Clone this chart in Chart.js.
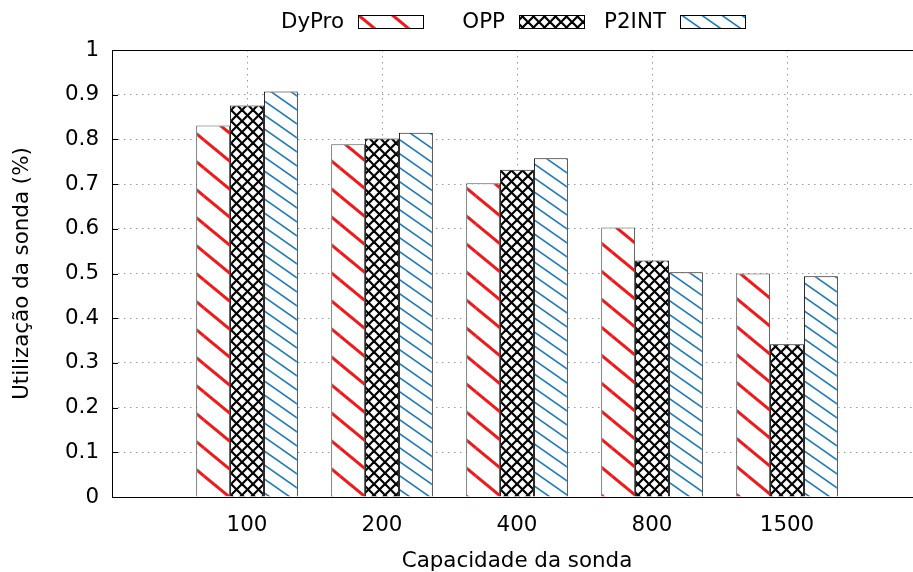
<!DOCTYPE html>
<html>
<head>
<meta charset="utf-8">
<script src="https://cdn.jsdelivr.net/npm/chart.js@4/dist/chart.umd.min.js"></script>
<style>
    html, body { margin: 0; padding: 0; background: #fff; overflow: hidden; }
    canvas { display: block; }
</style>
</head>
<body>
<!-- plot frame runs a little past the right edge of the window, like the original -->
<canvas id="probeChart" width="922" height="572"></canvas>
<script>
const categories = ["100", "200", "400", "800", "1500"];
const dyproValues = [0.831, 0.789, 0.702, 0.603, 0.500];
const oppValues = [0.876, 0.802, 0.732, 0.529, 0.342];
const p2intValues = [0.907, 0.815, 0.758, 0.503, 0.494];
const yTickValues = [0, 0.1, 0.2, 0.3, 0.4, 0.5, 0.6, 0.7, 0.8, 0.9, 1];

const FONT = "'DejaVu Sans', sans-serif";
const FONT_SIZE = 21.4;

function makeStripes(color, w, h, lw) {
    const c = document.createElement("canvas");
    c.width = w;
    c.height = h;
    const g = c.getContext("2d");
    g.fillStyle = "#fff";
    g.fillRect(0, 0, w, h);
    g.strokeStyle = color;
    g.lineWidth = lw;
    for (const dx of [-w, 0, w]) {
        for (const dy of [-h, 0, h]) {
            g.beginPath();
            g.moveTo(dx, dy);
            g.lineTo(dx + w, dy + h);
            g.stroke();
        }
    }
    return g.createPattern(c, "repeat");
}

function makeCrossHatch(color, s, lw) {
    const c = document.createElement("canvas");
    c.width = s;
    c.height = s;
    const g = c.getContext("2d");
    g.fillStyle = "#fff";
    g.fillRect(0, 0, s, s);
    g.strokeStyle = color;
    g.lineWidth = lw;
    for (const dx of [-s, 0, s]) {
        g.beginPath();
        g.moveTo(dx, 0);
        g.lineTo(dx + s, s);
        g.stroke();
        g.beginPath();
        g.moveTo(dx + s, 0);
        g.lineTo(dx, s);
        g.stroke();
    }
    return g.createPattern(c, "repeat");
}

const toPoints = arr => arr.map((v, i) => ({ x: i, y: v }));

// gnuplot-like frame: top/left/bottom border with inward y ticks, legend on top
const framePlugin = {
    id: "frame",
    afterDatasetsDraw(chart) {
        const { ctx, chartArea: a, scales } = chart;
        ctx.save();
        ctx.strokeStyle = "#000";
        ctx.lineWidth = 1;
        ctx.beginPath();
        ctx.moveTo(a.right, a.top + 0.5);
        ctx.lineTo(a.left + 0.5, a.top + 0.5);
        ctx.lineTo(a.left + 0.5, a.bottom + 0.5);
        ctx.lineTo(a.right, a.bottom + 0.5);
        ctx.stroke();
        yTickValues.forEach(v => {
            const y = Math.round(scales.y.getPixelForValue(v)) + 0.5;
            ctx.beginPath();
            ctx.moveTo(a.left, y);
            ctx.lineTo(a.left + 6, y);
            ctx.stroke();
        });
        ctx.restore();
    },
    afterDraw(chart) {
        const ctx = chart.ctx;
        ctx.save();
        ctx.font = FONT_SIZE + "px " + FONT;
        ctx.textAlign = "right";
        ctx.textBaseline = "middle";
        chart.data.datasets.forEach((ds, i) => {
            const sx = 358 + i * 161;
            ctx.fillStyle = ds.backgroundColor;
            ctx.fillRect(sx, 15, 65, 13);
            ctx.strokeStyle = "#000";
            ctx.lineWidth = 1;
            ctx.strokeRect(sx + 0.5, 15.5, 65, 13);
            ctx.fillStyle = "#000";
            ctx.fillText(ds.label, sx - 14, 22);
        });
        ctx.restore();
    }
};

const gridDots = [1.5, 4.5];

new Chart(document.getElementById("probeChart").getContext("2d"), {
    type: "bar",
    data: {
        datasets: [
            {
                label: "DyPro",
                data: toPoints(dyproValues),
                backgroundColor: makeStripes("#ec1c1c", 34, 28, 3),
                borderColor: "#555",
                borderWidth: 1
            },
            {
                label: "OPP",
                data: toPoints(oppValues),
                backgroundColor: makeCrossHatch("#000", 11, 2.2),
                borderColor: "#111",
                borderWidth: 1
            },
            {
                label: "P2INT",
                data: toPoints(p2intValues),
                backgroundColor: makeStripes("#1f7ab8", 20, 14, 1.6),
                borderColor: "#111",
                borderWidth: 1
            }
        ]
    },
    options: {
        responsive: false,
        animation: false,
        devicePixelRatio: 1,
        categoryPercentage: 0.753,
        barPercentage: 1,
        layout: { padding: { top: 50, right: 0, left: 0, bottom: 0 } },
        plugins: {
            legend: { display: false },
            tooltip: { enabled: false }
        },
        scales: {
            x: {
                type: "linear",
                offset: false,
                min: -1,
                max: 5,
                afterBuildTicks: scale => {
                    scale.ticks = categories.map((c, i) => ({ value: i }));
                },
                afterFit: scale => { scale.height = 75; },
                ticks: {
                    autoSkip: false,
                    maxRotation: 0,
                    padding: 16,
                    color: "#000",
                    font: { family: FONT, size: FONT_SIZE },
                    callback: (value, index) => categories[index]
                },
                grid: {
                    offset: false,
                    drawTicks: false,
                    color: "#9a9a9a",
                    lineWidth: 1
                },
                border: { display: false, dash: gridDots },
                title: {
                    display: true,
                    text: "Capacidade da sonda",
                    color: "#000",
                    font: { family: FONT, size: FONT_SIZE, lineHeight: 1 },
                    padding: { top: 0, bottom: 0 }
                }
            },
            y: {
                min: 0,
                max: 1,
                afterBuildTicks: scale => {
                    scale.ticks = yTickValues.map(v => ({ value: v }));
                },
                afterFit: scale => { scale.width = 112; },
                ticks: {
                    padding: 13,
                    color: "#000",
                    font: { family: FONT, size: FONT_SIZE },
                    callback: value => String(Math.round(value * 10) / 10)
                },
                grid: {
                    drawTicks: false,
                    lineWidth: 1,
                    color: ctx => (ctx.tick && (ctx.tick.value === 0 || ctx.tick.value === 1)) ? "rgba(0,0,0,0)" : "#9a9a9a"
                },
                border: { display: false, dash: gridDots },
                title: {
                    display: true,
                    text: "Utilização da sonda (%)",
                    color: "#000",
                    font: { family: FONT, size: FONT_SIZE },
                    padding: { top: 10, bottom: 0 }
                }
            }
        }
    },
    plugins: [framePlugin]
});
</script>
</body>
</html>
